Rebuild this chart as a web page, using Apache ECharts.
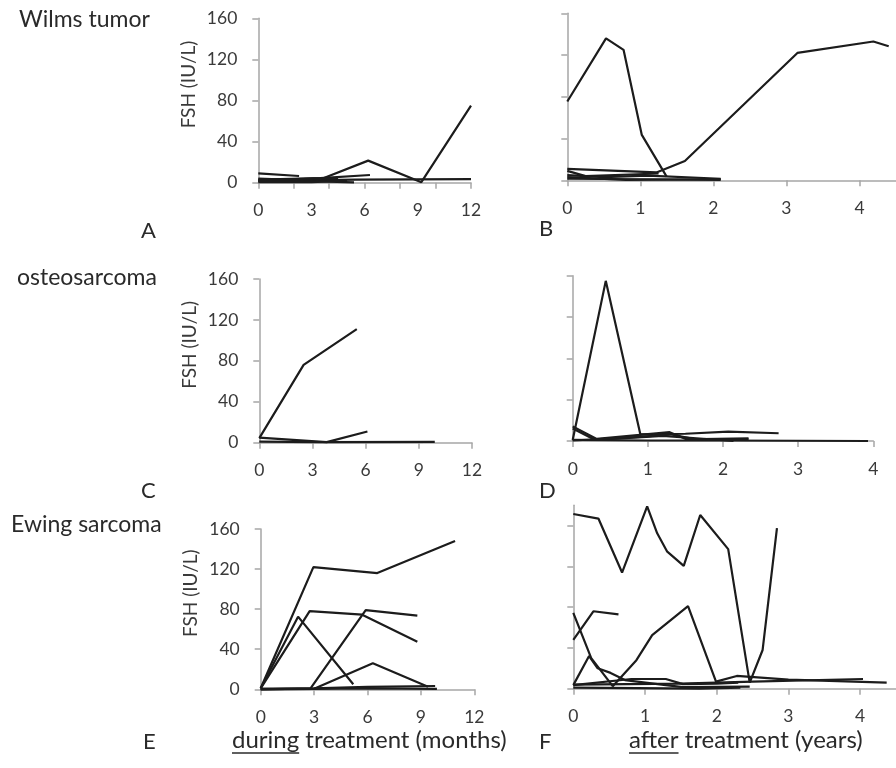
<!DOCTYPE html>
<html><head><meta charset="utf-8">
<script src="https://cdn.jsdelivr.net/npm/echarts@6/dist/echarts.min.js"></script>
<style>html,body{margin:0;padding:0;background:#fff}#c{width:896px;height:768px}</style>
</head><body><div id="c"></div>
<script>
// ---- data: [time, FSH IU/L] per patient ----
const wilmsDuring = [
  [[0,3],[3.7,4.5],[6.2,21.5],[9.2,0.5],[12,75]],
  [[0,9],[2.3,6.5]],
  [[0,2],[3.5,4.5],[6.3,7.5]],
  [[0,1.5],[5.5,3],[12,3.5]],
  [[0,2.5],[3,1.5],[5.4,0.3]],
  [[0,4],[1.5,3],[4.5,4.5]],
  [[0,0.5],[3,0.5],[5,2]]
];
const wilmsAfter = [
  [[0,75.5],[0.53,136],[0.77,125],[1.02,43.5],[1.36,3.5]],
  [[0,11],[1.22,7.5],[1.61,18.5],[3.15,122],[4.19,133],[4.4,128.5]],
  [[0,9],[0.25,4],[1.25,6.5]],
  [[0,5],[0.5,3],[1.1,4.5],[2.1,1.5]],
  [[0,3],[0.8,0.5],[2.1,1]],
  [[0,1.5],[1,1],[2.1,0.5]]
];
const osteoDuring = [
  [[0,4.5],[2.5,76],[5.5,111]],
  [[0,5],[3.8,0.5],[6.1,11]],
  [[0,1],[3.5,0.5],[9.9,0.8]]
];
const osteoAfter = [
  [[0,1],[0.44,155],[0.9,6.5],[1.5,7],[2.07,9],[2.74,7.5]],
  [[0,14],[0.32,2],[1.29,8.5],[1.52,1.5],[2.34,2.5]],
  [[0,12],[0.3,1],[1.2,5],[2.14,0]],
  [[0,1],[1,0.5],[2,0.5],[3.93,0]],
  [[0,0.5],[0.9,4],[1.3,6.5],[1.6,2],[2.34,1.5]]
];
const ewingDuring = [
  [[0,1],[2.96,122],[6.55,116],[10.92,148]],
  [[0,1],[2.75,78],[5.7,74.5],[8.8,47.5]],
  [[0,0],[2.8,1],[5.9,79],[8.8,73.5]],
  [[0,1],[2.1,72.5],[5.2,5]],
  [[0,0.5],[3,0.5],[6.3,26],[9.4,2.5]],
  [[0,0.5],[3,1],[6,2.5],[9.8,3.3]],
  [[0,0],[3,0.5],[6,1],[9.9,0.5]]
];
const ewingAfter = [
  [[0,171.5],[0.35,167],[0.68,114],[1.03,179],[1.17,152.5],[1.31,134.5],[1.54,120.5],[1.77,170.5],[2.16,137],[2.46,6],[2.64,38],[2.84,157.5]],
  [[0,48],[0.28,76],[0.63,73]],
  [[0,74.5],[0.25,30],[0.55,2.5],[0.88,28],[1.1,52.5],[1.6,81],[1.99,7],[2.28,12.5],[3.0,9],[4.37,6]],
  [[0,3.5],[0.22,32],[0.34,20],[0.52,15.5],[0.72,8.5],[1.29,3.5],[1.53,1.5],[2.46,2]],
  [[0,3.5],[0.81,9.5],[1.29,9.5],[1.53,4.5],[2.0,5],[2.3,6]],
  [[0,1],[1.76,0],[2.33,1]],
  [[0,4],[1.5,5],[2.5,7],[4.04,9.5]]
];
const monthTicks = [0,2,4,6,8,10,12];
const monthLabels = [0,3,6,9,12];
const yearTicks = [0,1,2,3,4];
const fshTicks = [0,40,80,120,160];
const rowLabels = ['Wilms tumor','osteosarcoma','Ewing sarcoma'];
const panelLetters = ['A','B','C','D','E','F'];

// ---- layout ----
const FONT = 'Lato';
const axisGray = '#a6a6a6';
const lineColor = '#1c1c1c';
const grids = [
  {left:258.3, top:18.3, width:212.7, height:164.4},
  {left:567.3, top:13.3, width:336.8, height:167},
  {left:259.3, top:279, width:212.7, height:163.7},
  {left:572.7, top:275.7, width:300.6, height:165.3},
  {left:260.7, top:529, width:213.6, height:160.3},
  {left:573.3, top:505.3, width:332.3, height:183.4}
];
const panels = [wilmsDuring, wilmsAfter, osteoDuring, osteoAfter, ewingDuring, ewingAfter];
const xSpec = [
  {max:12, ticks:monthTicks, labels:monthLabels},
  {max:4.5, ticks:yearTicks, labels:yearTicks},
  {max:12, ticks:monthLabels, labels:monthLabels},
  {max:4, ticks:yearTicks, labels:yearTicks},
  {max:12, ticks:monthLabels, labels:monthLabels},
  {max:4.5, ticks:yearTicks, labels:yearTicks}
];
const yMax = [160,160,160,160,160,180];

const labelStyle = {fontFamily:FONT, fontSize:17.5, color:'#3a3a3a'};
const xAxis = xSpec.map((s,i)=>({
  type:'value', gridIndex:i, min:0, max:s.max,
  axisLine:{show:true, lineStyle:{color:axisGray, width:1.5}},
  axisTick:{show:true, length:6, customValues:s.ticks, lineStyle:{color:axisGray, width:1.5}},
  axisLabel:Object.assign({show:true, margin:19, customValues:s.labels}, labelStyle),
  splitLine:{show:false}
}));
const yAxis = yMax.map((m,i)=>({
  type:'value', gridIndex:i, min:0, max:m,
  axisLine:{show:true, lineStyle:{color:axisGray, width:1.5}},
  axisTick:{show:true, length:6, customValues:fshTicks, lineStyle:{color:axisGray, width:1.5}},
  axisLabel:Object.assign({show:i%2===0, margin:21, customValues:fshTicks}, labelStyle),
  splitLine:{show:false},
  name: i%2===0 ? 'FSH (IU/L)' : '',
  nameLocation:'middle', nameRotate:90, nameGap:60,
  nameTextStyle:{fontFamily:FONT, fontSize:19, color:'#3a3a3a', padding:[0,0,0,32]}
}));
const series = [];
panels.forEach((p,i)=>p.forEach(d=>series.push({
  type:'line', xAxisIndex:i, yAxisIndex:i, data:d, symbol:'none', clip:false,
  lineStyle:{color:lineColor, width:2.2}, silent:true, animation:false
})));

// ---- texts ----
const ctx = document.createElement('canvas').getContext('2d');
ctx.font = '24px ' + FONT;
const wDuring = ctx.measureText('during').width;
const wAfter = ctx.measureText('after').width;
const txt = (x,y,t,size)=>({type:'text', x:x, y:y, style:{text:t, fontFamily:FONT, fontSize:size, fill:'#2a2a2a', align:'left', verticalAlign:'middle'}});
const graphic = [
  txt(19,20,rowLabels[0],23), txt(17,278,rowLabels[1],23), txt(11,525,rowLabels[2],23),
  txt(141,231,panelLetters[0],22), txt(539,229,panelLetters[1],22),
  txt(141,491,panelLetters[2],22), txt(539,491,panelLetters[3],22),
  txt(143,742,panelLetters[4],22), txt(539,742,panelLetters[5],22),
  txt(232,740,'during treatment (months)',24),
  txt(629,740,'after treatment (years)',24),
  {type:'line', shape:{x1:232,y1:753,x2:232+wDuring,y2:753}, style:{stroke:'#2a2a2a', lineWidth:1.6}},
  {type:'line', shape:{x1:629,y1:753,x2:629+wAfter,y2:753}, style:{stroke:'#2a2a2a', lineWidth:1.6}}
];

const chart = echarts.init(document.getElementById('c'), null, {renderer:'canvas'});
chart.setOption({animation:false, backgroundColor:'#fff', grid:grids, xAxis, yAxis, series, graphic});
</script></body></html>
